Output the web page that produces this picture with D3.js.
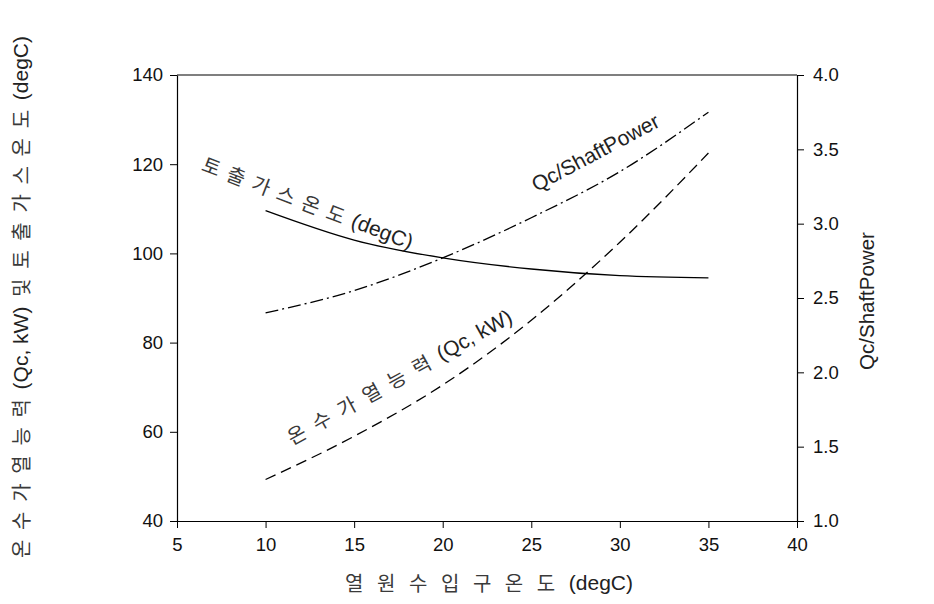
<!DOCTYPE html>
<html>
<head>
<meta charset="utf-8">
<script src="https://cdn.jsdelivr.net/npm/d3@7"></script>
<style>
  body { margin: 0; background: #fff; }
  svg { display: block; }
  .tick text { font-family: Arial, "Liberation Sans", sans-serif; font-size: 18.5px; fill: #111; }
  .ko { font-family: "Noto Sans CJK KR", sans-serif; fill: #3a3a3a; }
  .en { font-family: Arial, "Liberation Sans", sans-serif; fill: #222; }
</style>
</head>
<body>
<div id="chart"></div>
<script>
// inlet temperature of heat source (degC)
const inletTemp = [10, 15, 20, 25, 30, 35];
// discharge gas temperature (degC), left axis
const dischargeTemp = [109.6, 103.0, 99.0, 96.5, 95.0, 94.5];
// hot water heating capacity Qc (kW), left axis
const heatingCapacity = [49.3, 59.0, 70.5, 85.0, 102.5, 122.5];
// Qc / shaft power, right axis
const copRatio = [2.40, 2.55, 2.77, 3.04, 3.35, 3.75];

const xTicks = [5, 10, 15, 20, 25, 30, 35, 40];
const leftTicks = [40, 60, 80, 100, 120, 140];
const rightTicks = [1.0, 1.5, 2.0, 2.5, 3.0, 3.5, 4.0];

const width = 934, height = 604;
const area = { left: 177, right: 797, top: 75, bottom: 521 };

const svg = d3.select('#chart').append('svg')
  .attr('width', width).attr('height', height);

const x = d3.scaleLinear().domain([5, 40]).range([area.left, area.right]);
const yL = d3.scaleLinear().domain([40, 140]).range([area.bottom, area.top]);
const yR = d3.scaleLinear().domain([1, 4]).range([area.bottom, area.top]);

// frame top line
svg.append('line')
  .attr('x1', area.left).attr('x2', area.right)
  .attr('y1', area.top).attr('y2', area.top)
  .attr('stroke', '#000').attr('stroke-width', 1.2);

const styleAxis = g => {
  g.select('.domain').attr('stroke', '#000').attr('stroke-width', 1.2);
  g.selectAll('.tick line').attr('stroke', '#000').attr('stroke-width', 1);
  g.attr('font-family', null).attr('font-size', null);
};

svg.append('g')
  .attr('transform', `translate(0,${area.bottom})`)
  .call(d3.axisBottom(x).tickValues(xTicks).tickSize(7).tickSizeOuter(0).tickPadding(10))
  .call(styleAxis);

svg.append('g')
  .attr('transform', `translate(${area.left},0)`)
  .call(d3.axisLeft(yL).tickValues(leftTicks).tickSize(7).tickSizeOuter(0).tickPadding(7))
  .call(styleAxis);

svg.append('g')
  .attr('transform', `translate(${area.right},0)`)
  .call(d3.axisRight(yR).tickValues(rightTicks).tickFormat(d3.format('.1f')).tickSize(7).tickSizeOuter(0).tickPadding(9))
  .call(styleAxis);

// curves
const lineL = d3.line().x((d, i) => x(inletTemp[i])).y(d => yL(d)).curve(d3.curveMonotoneX);
const lineR = d3.line().x((d, i) => x(inletTemp[i])).y(d => yR(d)).curve(d3.curveMonotoneX);

svg.append('path').datum(dischargeTemp)
  .attr('d', lineL).attr('fill', 'none').attr('stroke', '#000').attr('stroke-width', 1.3);

svg.append('path').datum(heatingCapacity)
  .attr('d', lineL).attr('fill', 'none').attr('stroke', '#000').attr('stroke-width', 1.3)
  .attr('stroke-dasharray', '11,6');

svg.append('path').datum(copRatio)
  .attr('d', lineR).attr('fill', 'none').attr('stroke', '#000').attr('stroke-width', 1.3)
  .attr('stroke-dasharray', '13,4,2,4');

// labels: korean syllables are spread by letter-spacing so the whole text fits `len`
function label(parts, cx, cy, ang, len, koSize = 20, enSize = 21) {
  const t = svg.append('text')
    .attr('transform', `translate(${cx},${cy}) rotate(${ang})`)
    .attr('text-anchor', 'middle').attr('dominant-baseline', 'central');
  const spans = parts.map(p => {
    const isKo = /[\uac00-\ud7a3]/.test(p);
    return t.append('tspan').attr('class', isKo ? 'ko' : 'en')
      .attr('font-size', isKo ? koSize : enSize).text(p);
  });
  const ko = spans.filter(s => s.classed('ko'));
  if (ko.length) {
    const total = t.node().getComputedTextLength();
    const followers = spans.filter((s, i) => i > 0 && s.classed('ko'));
    const nChars = d3.sum(ko, s => s.text().length);
    const ls = Math.max(0, (len - total) / (nChars + followers.length));
    ko.forEach(s => s.attr('letter-spacing', ls));
    followers.forEach(s => s.attr('dx', ls));
  }
  return t;
}

label(['토출가스온도', '(degC)'], 308, 202, 21, 224);
label(['온수가열능력', '(Qc, kW)'], 399, 376, -29, 254);
label(['Qc/ShaftPower'], 595, 152, -28, 145);

// axis titles
label(['열원수입구온도', '(degC)'], 489, 582, 0, 288);
label(['온수가열능력', '(Qc, kW)', '및토출가스온도', '(degC)'], 20, 297, -90, 522);
label(['Qc/ShaftPower'], 866, 301, -90, 138, 19, 20.5);
</script>
</body>
</html>
